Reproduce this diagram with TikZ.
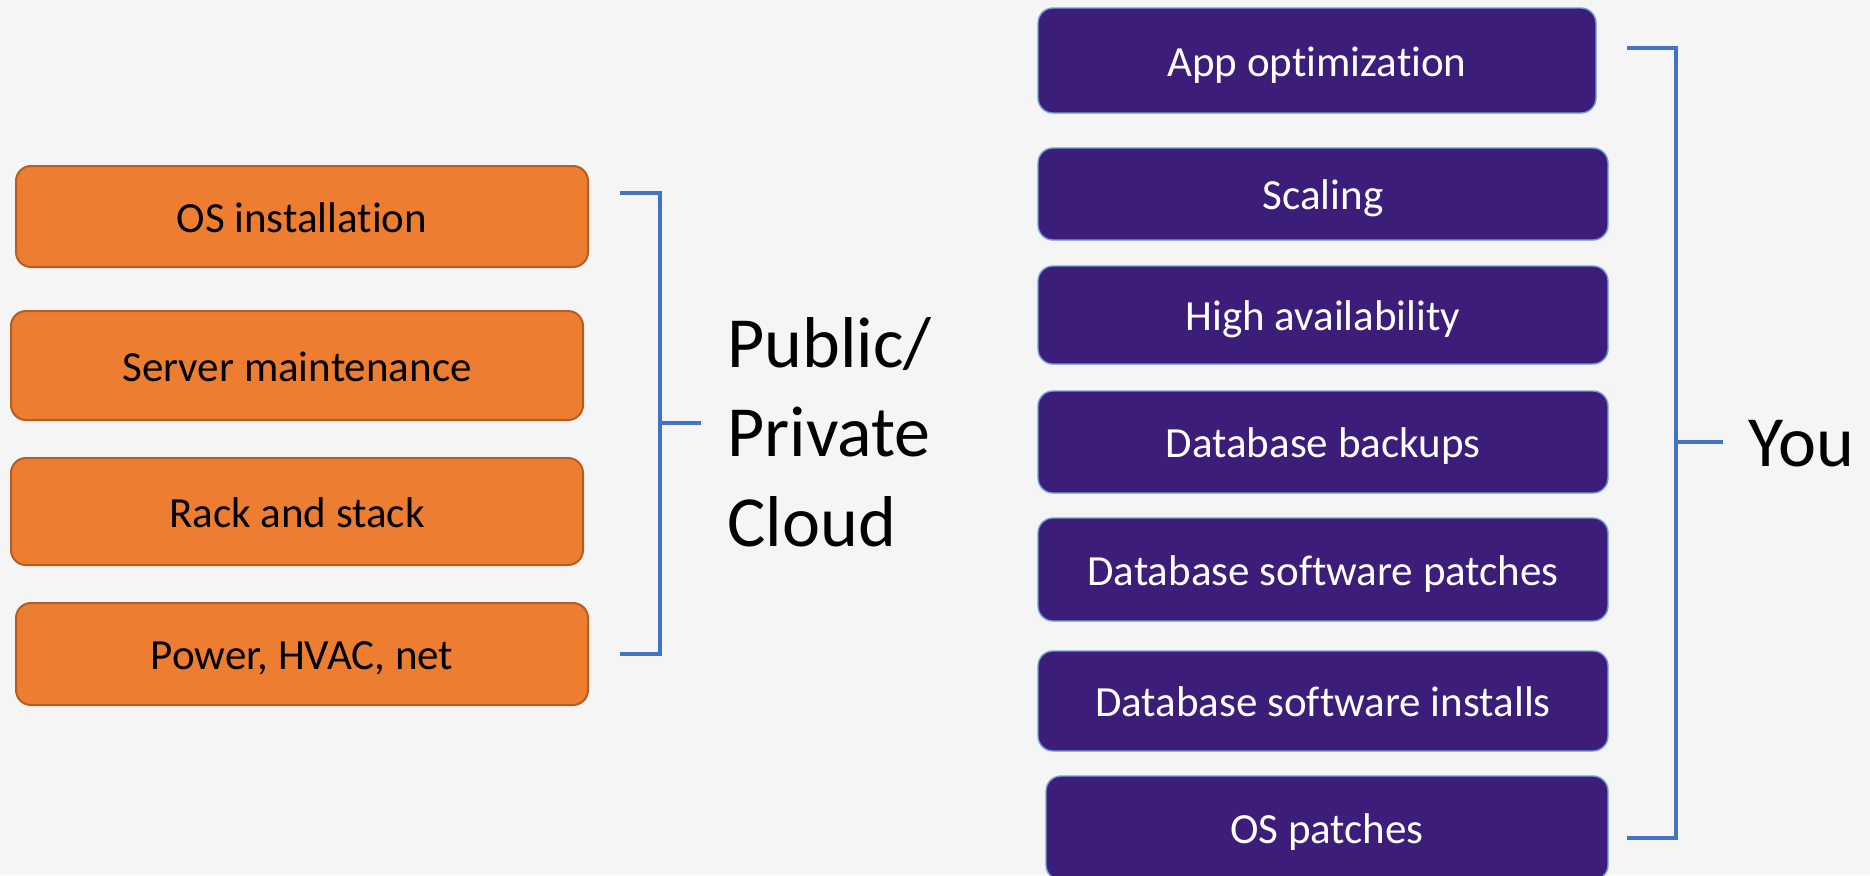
\documentclass[tikz,border=0pt]{standalone}
\usepackage{fontspec}
\setmainfont{Carlito}[Ligatures={NoCommon}]
\usetikzlibrary{positioning}

\definecolor{pagegray}{HTML}{F5F5F5}
\definecolor{hostorange}{HTML}{ED7D31}
\definecolor{hostline}{HTML}{B85C22}
\definecolor{userpurple}{HTML}{3C1E7A}
\definecolor{userline}{HTML}{6F9EDC}
\definecolor{bracketblue}{HTML}{4472C4}

\newcommand\tasktextstyle{\fontsize{21.5}{26}\selectfont}
\newcommand\whotextstyle{\fontsize{36}{44.7}\selectfont}

\tikzset{
  task/.style={rounded corners=7.5pt, inner sep=0pt, font=\tasktextstyle,
    text height=17pt, text depth=1.2pt},
  hosttask/.style={task, fill=hostorange, draw=hostline, line width=1pt,
    text=black, minimum width=286pt},
  usertask/.style={task, fill=userpurple, draw=userline, line width=.7pt,
    text=white, minimum width=285pt},
  bracket/.style={draw=bracketblue, line width=2pt},
  who/.style={font=\whotextstyle, align=left, inner sep=0pt, anchor=west},
}

\begin{document}
\begin{tikzpicture}[x=.5pt, y=-.5pt]
  \useasboundingbox[fill=pagegray] (0,0) rectangle (1870,875);
  % left column
  \node[hosttask, minimum height=50.5pt] (osinst) at (302,216.5) {OS installation};
  \node[hosttask, minimum height=54.5pt] (maint)  at (297,365.5) {Server maintenance};
  \node[hosttask, minimum height=53.5pt] (rack)   at (297,511.5) {Rack and stack};
  \node[hosttask, minimum height=51pt]   (power)  at (302,654)   {Power, HVAC, net};
  % right column
  \node[usertask, minimum width=279pt, minimum height=52.5pt] (appopt) at (1317,60.5) {App optimization};
  \node[usertask, minimum height=46pt]   (scale)   at (1323,194)   {Scaling};
  \node[usertask, minimum height=49pt]   (ha)      at (1323,315)   {High availability};
  \node[usertask, minimum height=51pt]   (backup)  at (1323,442)   {Database backups};
  \node[usertask, minimum height=51.5pt] (dbpatch) at (1323,569.5) {Database software patches};
  \node[usertask, minimum height=50pt]   (dbinst)  at (1323,701)   {Database software installs};
  \node[usertask, minimum width=281pt, minimum height=52pt] (ospatch) at (1327,828) {OS patches};
  % who does it
  \node[who] (cloud) at (727,432) {Public/\\Private\\Cloud};
  \node[who] (you) at (1748,444) {You};
  % brackets
  \coordinate (cloudtop) at (620,193);
  \coordinate (cloudbot) at (620,654);
  \coordinate (cloudtip) at (701,423);
  \draw[bracket] (cloudtop) -- ++(40,0) |- (cloudbot);
  \draw[bracket] (660,423) -- (cloudtip);
  \coordinate (youtop) at (1627,48);
  \coordinate (youbot) at (1627,838);
  \coordinate (youtip) at (1723,442);
  \draw[bracket] (youtop) -- ++(49,0) |- (youbot);
  \draw[bracket] (1676,442) -- (youtip);
\end{tikzpicture}
\end{document}
